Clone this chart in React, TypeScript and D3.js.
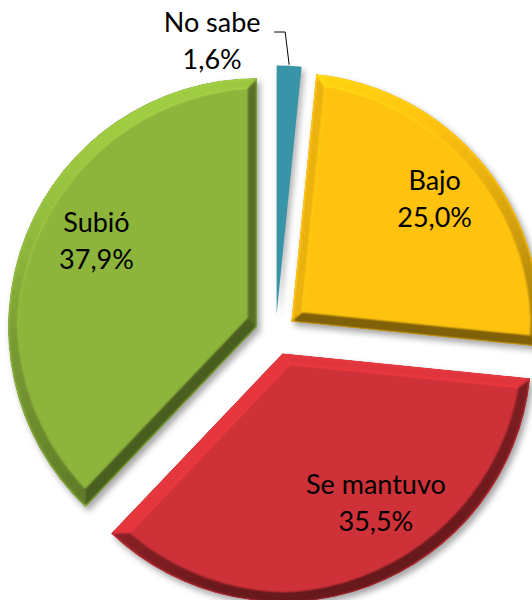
import React from 'react';
import * as d3 from 'd3';

// ---- data ----
const categories: string[] = ['No sabe', 'Bajo', 'Se mantuvo', 'Subió'];
const values: number[] = [1.6, 25.0, 35.5, 37.9];
const valueLabels: string[] = ['1,6%', '25,0%', '35,5%', '37,9%'];
const colors: string[] = ['#3A94A8', '#FFC20F', '#CF3138', '#8DB43B'];

// ---- layout ----
const W = 532;
const H = 600;
const CX = 275.6;
const CY = 334.4;
const R = 249;
const EXPLODE = 20;
const LINE_GAP = 37;
// label placement relative to slice (angle nudge in degrees, radius fraction)
const labelLayout = [
  { dAng: 0, rFrac: 0 },
  { dAng: 1.0, rFrac: 0.734 },
  { dAng: -10.0, rFrac: 0.742 },
  { dAng: 3.8, rFrac: 0.715 },
];

export default function App() {
  const pie = d3
    .pie<number>()
    .sort(null)
    .value((d) => d)
    .startAngle(0)
    .endAngle(2 * Math.PI);
  const arcs = pie(values);
  const arcGen = d3.arc<d3.PieArcDatum<number>>().innerRadius(0).outerRadius(R);

  const slices = arcs.map((a, i) => {
    const mid = (a.startAngle + a.endAngle) / 2;
    const ox = CX + Math.sin(mid) * EXPLODE;
    const oy = CY - Math.cos(mid) * EXPLODE;
    return { a, i, mid, ox, oy };
  });

  // No sabe leader line
  const ns = slices[0];
  const lx0 = ns.ox + Math.sin(ns.mid) * (R + 1);
  const ly0 = ns.oy - Math.cos(ns.mid) * (R + 1);

  return (
    <svg width={W} height={H} style={{ position: 'absolute', left: 0, top: 0 }}>
      <defs>
        <filter id="bevel" x="-10%" y="-10%" width="125%" height="125%" colorInterpolationFilters="sRGB">
          <feMorphology in="SourceAlpha" operator="erode" radius="2" result="e1" />
          <feMorphology in="SourceAlpha" operator="erode" radius="4" result="e2" />
          <feMorphology in="SourceAlpha" operator="erode" radius="6" result="e3" />
          <feMorphology in="SourceAlpha" operator="erode" radius="8" result="e4" />
          <feComposite in="e1" in2="e2" operator="arithmetic" k2="0.25" k3="0.25" result="s12" />
          <feComposite in="e3" in2="e4" operator="arithmetic" k2="0.25" k3="0.25" result="s34" />
          <feComposite in="s12" in2="s34" operator="arithmetic" k2="1" k3="1" result="h0" />
          <feGaussianBlur in="h0" stdDeviation="1.2" result="h" />
          <feDiffuseLighting in="h" surfaceScale="7" diffuseConstant="1" lightingColor="#ffffff" result="light">
            <feDistantLight azimuth="250" elevation="50" />
          </feDiffuseLighting>
          <feComposite in="SourceGraphic" in2="light" operator="arithmetic" k1="0.653" k2="0.5" result="lit" />
          <feComposite in="lit" in2="SourceAlpha" operator="in" result="litc" />
          <feGaussianBlur in="SourceAlpha" stdDeviation="3" result="sb" />
          <feOffset in="sb" dx="3" dy="4" result="so" />
          <feFlood floodColor="#000" floodOpacity="0.35" />
          <feComposite in2="so" operator="in" result="shadow" />
          <feMerge>
            <feMergeNode in="shadow" />
            <feMergeNode in="litc" />
          </feMerge>
        </filter>
        <filter id="shadowOnly" x="-50%" y="-10%" width="200%" height="125%" colorInterpolationFilters="sRGB">
          <feGaussianBlur in="SourceAlpha" stdDeviation="3" result="sb" />
          <feOffset in="sb" dx="3" dy="4" result="so" />
          <feFlood floodColor="#000" floodOpacity="0.3" />
          <feComposite in2="so" operator="in" result="shadow" />
          <feMerge>
            <feMergeNode in="shadow" />
            <feMergeNode in="SourceGraphic" />
          </feMerge>
        </filter>
      </defs>
      {slices.map(({ a, i, ox, oy }) => (
        <path
          key={categories[i]}
          d={arcGen(a) || ''}
          transform={`translate(${ox},${oy})`}
          fill={colors[i]}
          filter={i === 0 ? 'url(#shadowOnly)' : 'url(#bevel)'}
        />
      ))}
      <polyline
        points={`${lx0},${ly0} ${lx0 - 4},32 ${lx0 - 15},32`}
        fill="none"
        stroke="#000"
        strokeWidth={1}
      />
      {slices.map(({ i, mid, ox, oy }) => {
        let x: number;
        let y: number;
        if (i === 0) {
          x = lx0 - 77;
          y = 50;
        } else {
          const ang = mid + (labelLayout[i].dAng * Math.PI) / 180;
          const rr = R * labelLayout[i].rFrac;
          x = ox + Math.sin(ang) * rr;
          y = oy - Math.cos(ang) * rr;
        }
        return (
          <text
            key={'t' + i}
            x={x}
            y={y}
            textAnchor="middle"
            fontFamily="Lato, 'Open Sans', sans-serif"
            fontSize={27}
            fill="#000"
          >
            <tspan x={x} y={y - LINE_GAP / 2}>{categories[i]}</tspan>
            <tspan x={x} y={y + LINE_GAP / 2}>{valueLabels[i]}</tspan>
          </text>
        );
      })}
    </svg>
  );
}
